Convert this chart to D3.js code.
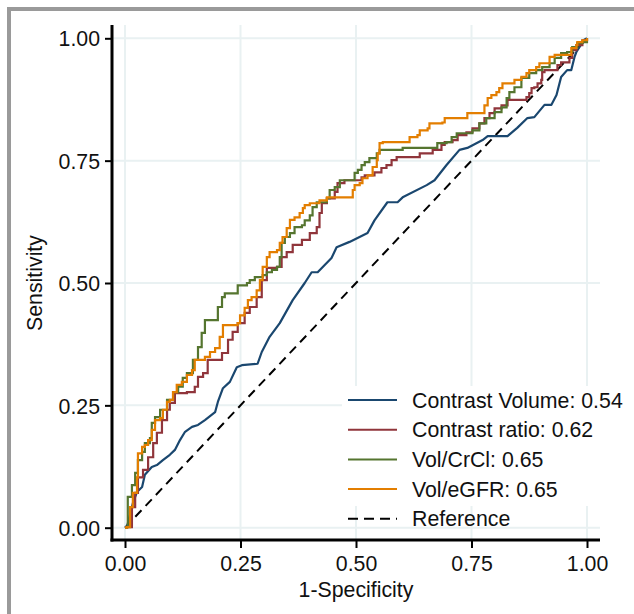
<!DOCTYPE html>
<html>
<head>
<meta charset="utf-8">
<script src="https://cdn.jsdelivr.net/npm/d3@7"></script>
<style>
  body { margin: 0; background: #fff; }
  text { font-family: "Liberation Sans", Arial, sans-serif; fill: #111; }
</style>
</head>
<body>
<script>
// ROC curves, [1-specificity, sensitivity]
let contrastVolume = [[0,0],[0.004,0.001],[0.017,0.05],[0.026,0.073],[0.037,0.083],[0.043,0.108],[0.058,0.124],[0.069,0.128],[0.082,0.138],[0.097,0.149],[0.108,0.159],[0.119,0.179],[0.130,0.196],[0.145,0.206],[0.158,0.210],[0.173,0.220],[0.195,0.236],[0.201,0.257],[0.212,0.285],[0.227,0.298],[0.242,0.328],[0.253,0.332],[0.287,0.335],[0.296,0.359],[0.313,0.390],[0.335,0.418],[0.363,0.465],[0.389,0.500],[0.404,0.522],[0.417,0.522],[0.447,0.551],[0.458,0.573],[0.486,0.584],[0.525,0.602],[0.540,0.628],[0.568,0.665],[0.590,0.665],[0.601,0.675],[0.653,0.700],[0.670,0.710],[0.696,0.741],[0.724,0.772],[0.741,0.776],[0.774,0.792],[0.785,0.800],[0.828,0.800],[0.849,0.817],[0.871,0.837],[0.886,0.839],[0.908,0.864],[0.923,0.864],[0.934,0.884],[0.944,0.921],[0.957,0.935],[0.966,0.935],[0.973,0.962],[0.977,0.972],[0.994,0.997],[1,1]];

let contrastRatio = [[0,0],[0.004,0.001],[0.015,0.042],[0.022,0.071],[0.028,0.103],[0.039,0.118],[0.050,0.144],[0.061,0.173],[0.069,0.194],[0.080,0.220],[0.091,0.241],[0.097,0.255],[0.108,0.275],[0.134,0.277],[0.151,0.288],[0.158,0.308],[0.169,0.316],[0.179,0.343],[0.199,0.343],[0.210,0.357],[0.223,0.384],[0.233,0.400],[0.244,0.418],[0.259,0.439],[0.270,0.451],[0.285,0.471],[0.296,0.506],[0.307,0.531],[0.329,0.533],[0.339,0.553],[0.350,0.563],[0.363,0.578],[0.383,0.588],[0.400,0.602],[0.415,0.614],[0.421,0.643],[0.426,0.663],[0.437,0.673],[0.454,0.686],[0.460,0.704],[0.475,0.710],[0.493,0.710],[0.512,0.716],[0.519,0.720],[0.540,0.726],[0.555,0.735],[0.566,0.741],[0.577,0.751],[0.588,0.757],[0.631,0.757],[0.638,0.765],[0.666,0.772],[0.685,0.782],[0.692,0.788],[0.709,0.792],[0.720,0.802],[0.739,0.808],[0.752,0.816],[0.767,0.826],[0.778,0.837],[0.789,0.847],[0.800,0.857],[0.815,0.863],[0.828,0.874],[0.847,0.874],[0.869,0.880],[0.875,0.888],[0.880,0.898],[0.886,0.900],[0.893,0.908],[0.901,0.915],[0.903,0.931],[0.908,0.935],[0.925,0.935],[0.936,0.945],[0.944,0.951],[0.957,0.951],[0.962,0.960],[0.968,0.976],[0.977,0.986],[0.990,0.996],[1,1]];

let volCrCl = [[0,0],[0.004,0.001],[0.006,0.063],[0.015,0.087],[0.022,0.112],[0.028,0.138],[0.037,0.155],[0.043,0.173],[0.054,0.183],[0.058,0.214],[0.065,0.226],[0.076,0.241],[0.091,0.261],[0.104,0.277],[0.115,0.288],[0.125,0.306],[0.134,0.316],[0.147,0.343],[0.158,0.369],[0.166,0.398],[0.173,0.424],[0.195,0.424],[0.201,0.451],[0.210,0.471],[0.216,0.479],[0.238,0.479],[0.244,0.495],[0.264,0.500],[0.270,0.506],[0.281,0.512],[0.298,0.516],[0.307,0.522],[0.318,0.527],[0.329,0.533],[0.335,0.553],[0.339,0.582],[0.346,0.594],[0.357,0.602],[0.367,0.614],[0.383,0.618],[0.389,0.628],[0.400,0.638],[0.406,0.655],[0.415,0.665],[0.437,0.673],[0.443,0.690],[0.454,0.696],[0.465,0.710],[0.493,0.710],[0.497,0.725],[0.504,0.731],[0.512,0.741],[0.519,0.747],[0.529,0.755],[0.545,0.765],[0.551,0.772],[0.594,0.772],[0.601,0.776],[0.670,0.776],[0.676,0.786],[0.696,0.788],[0.707,0.798],[0.718,0.806],[0.752,0.812],[0.767,0.826],[0.782,0.837],[0.800,0.849],[0.815,0.859],[0.826,0.878],[0.832,0.890],[0.843,0.900],[0.858,0.919],[0.875,0.929],[0.890,0.935],[0.903,0.941],[0.919,0.949],[0.930,0.960],[0.944,0.970],[0.957,0.972],[0.968,0.982],[0.979,0.990],[0.990,0.992],[1,1]];

let volEgfr = [[0,0],[0.004,0.001],[0.011,0.042],[0.017,0.071],[0.026,0.103],[0.028,0.152],[0.037,0.165],[0.043,0.169],[0.050,0.179],[0.058,0.200],[0.065,0.220],[0.076,0.224],[0.082,0.241],[0.091,0.257],[0.097,0.261],[0.104,0.277],[0.112,0.292],[0.123,0.298],[0.134,0.312],[0.145,0.322],[0.151,0.343],[0.173,0.349],[0.184,0.359],[0.195,0.367],[0.205,0.390],[0.212,0.414],[0.244,0.418],[0.249,0.434],[0.259,0.449],[0.266,0.465],[0.274,0.471],[0.285,0.485],[0.292,0.506],[0.298,0.533],[0.307,0.553],[0.313,0.563],[0.329,0.567],[0.335,0.582],[0.341,0.594],[0.350,0.612],[0.357,0.629],[0.367,0.634],[0.378,0.643],[0.385,0.653],[0.389,0.659],[0.400,0.663],[0.421,0.669],[0.437,0.675],[0.491,0.675],[0.493,0.690],[0.497,0.700],[0.508,0.704],[0.514,0.714],[0.525,0.720],[0.536,0.737],[0.545,0.751],[0.547,0.765],[0.551,0.786],[0.558,0.788],[0.612,0.788],[0.616,0.798],[0.633,0.802],[0.638,0.812],[0.655,0.816],[0.659,0.826],[0.687,0.828],[0.692,0.837],[0.739,0.837],[0.741,0.847],[0.772,0.847],[0.778,0.863],[0.785,0.878],[0.793,0.884],[0.804,0.890],[0.810,0.898],[0.817,0.908],[0.839,0.908],[0.843,0.915],[0.858,0.921],[0.869,0.929],[0.875,0.935],[0.890,0.941],[0.897,0.949],[0.914,0.949],[0.919,0.962],[0.930,0.966],[0.957,0.966],[0.966,0.980],[0.977,0.986],[0.979,0.992],[0.990,0.996],[1,1]];

let referenceLine = [[0,0],[1,1]];

let tickValues = [0, 0.25, 0.5, 0.75, 1];
let legendLabels = ["Contrast Volume: 0.54", "Contrast ratio: 0.62", "Vol/CrCl: 0.65", "Vol/eGFR: 0.65", "Reference"];
let colors = ["#1a476f", "#90353b", "#55752f", "#e37e00", "#000"];

let w = 634, h = 614;
let fontSize = "21.3px";
let svg = d3.select("body").append("svg").attr("width", w).attr("height", h);

// outer frame (only top and left edge show)
svg.append("rect")
  .attr("x", 9).attr("y", 9).attr("width", 700).attr("height", 700)
  .attr("fill", "#fff").attr("stroke", "#9a9a9a").attr("stroke-width", 4);

let x = d3.scaleLinear().domain([0, 1]).range([125, 587]);
let y = d3.scaleLinear().domain([0, 1]).range([527.7, 38.3]);

let plotLeft = 113, plotRight = 600, plotTop = 25, plotBottom = 540;

// grid
svg.append("g").selectAll("line").data(tickValues).enter().append("line")
  .attr("x1", d => x(d)).attr("x2", d => x(d))
  .attr("y1", plotTop).attr("y2", plotBottom)
  .attr("stroke", "#e9f1f2").attr("stroke-width", 2);
svg.append("g").selectAll("line").data(tickValues).enter().append("line")
  .attr("x1", plotLeft).attr("x2", plotRight)
  .attr("y1", d => y(d)).attr("y2", d => y(d))
  .attr("stroke", "#e9f1f2").attr("stroke-width", 2);

// legend background
svg.append("rect")
  .attr("x", 342).attr("y", 386).attr("width", 290).attr("height", 120)
  .attr("fill", "#fff");

// axes
let yAxis = svg.append("g")
  .attr("transform", "translate(" + 112 + ",0)")
  .call(d3.axisLeft(y).tickValues(tickValues).tickFormat(d3.format(".2f")).tickSize(7).tickPadding(5));
let xAxis = svg.append("g")
  .attr("transform", "translate(0," + 540 + ")")
  .call(d3.axisBottom(x).tickValues(tickValues).tickFormat(d3.format(".2f")).tickSize(8).tickPadding(8));

[xAxis, yAxis].forEach(function (g) {
  g.select(".domain").remove();
  g.selectAll(".tick line").attr("stroke", "#000").attr("stroke-width", 2);
  g.selectAll(".tick text").attr("font-size", fontSize).attr("fill", "#111")
    .attr("font-family", "'Liberation Sans', Arial, sans-serif");
});
yAxis.selectAll(".tick text").attr("dy", "0.36em");

svg.append("line").attr("x1", 112).attr("x2", 112).attr("y1", plotTop).attr("y2", 541.5)
  .attr("stroke", "#000").attr("stroke-width", 3);
svg.append("line").attr("x1", 110.5).attr("x2", plotRight).attr("y1", 540).attr("y2", 540)
  .attr("stroke", "#000").attr("stroke-width", 3);

// axis titles
svg.append("text")
  .attr("x", (x(0) + x(1)) / 2).attr("y", 597)
  .attr("text-anchor", "middle").attr("font-size", fontSize)
  .text("1-Specificity");
svg.append("text")
  .attr("transform", "translate(42," + ((y(0) + y(1)) / 2) + ") rotate(-90)")
  .attr("text-anchor", "middle").attr("font-size", fontSize)
  .text("Sensitivity");

// curves
let stepLine = d3.line().x(d => x(d[0])).y(d => y(d[1])).curve(d3.curveStepAfter);
let plainLine = d3.line().x(d => x(d[0])).y(d => y(d[1]));

svg.append("path").datum(referenceLine)
  .attr("d", plainLine).attr("fill", "none")
  .attr("stroke", colors[4]).attr("stroke-width", 2).attr("stroke-dasharray", "9,6");

svg.append("path").datum(contrastVolume)
  .attr("d", plainLine).attr("fill", "none")
  .attr("stroke", colors[0]).attr("stroke-width", 2.2).attr("stroke-linejoin", "round");

[[contrastRatio, 1], [volCrCl, 2], [volEgfr, 3]].forEach(function (s) {
  svg.append("path").datum(s[0])
    .attr("d", stepLine).attr("fill", "none")
    .attr("stroke", colors[s[1]]).attr("stroke-width", 2.2);
});

// legend
let legend = svg.append("g").selectAll("g").data(legendLabels).enter().append("g")
  .attr("transform", (d, i) => "translate(0," + (400 + i * 29.7) + ")");
legend.append("line")
  .attr("x1", 348).attr("x2", 397).attr("y1", 0).attr("y2", 0)
  .attr("stroke", (d, i) => colors[i]).attr("stroke-width", 2)
  .attr("stroke-dasharray", (d, i) => i == 4 ? "10,6" : null);
legend.append("text")
  .attr("x", 412).attr("y", 0).attr("dy", "0.36em")
  .attr("font-size", fontSize)
  .text(d => d);
</script>
</body>
</html>
